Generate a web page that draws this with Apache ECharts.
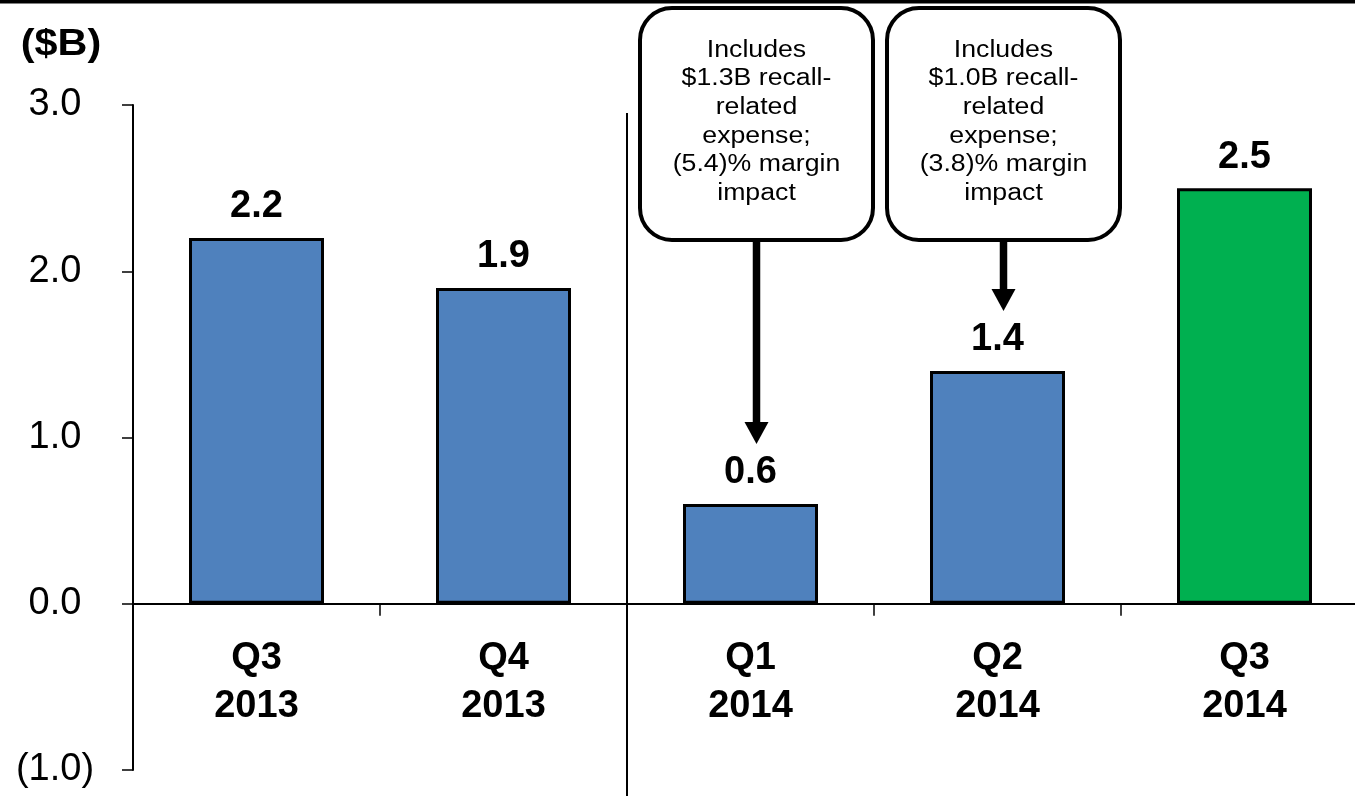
<!DOCTYPE html>
<html>
<head>
<meta charset="utf-8">
<script src="https://cdn.jsdelivr.net/npm/echarts@6/dist/echarts.min.js"></script>
<style>
  html, body { margin: 0; padding: 0; background: #fff; }
  #chart { width: 1355px; height: 796px; }
</style>
</head>
<body>
<div id="chart"></div>
<script>
// Quarterly values, $B
const quarters = ['Q3', 'Q4', 'Q1', 'Q2', 'Q3'];
const years = ['2013', '2013', '2014', '2014', '2014'];
const values = [2.2, 1.9, 0.6, 1.4, 2.5];
const barColors = ['#4F81BD', '#4F81BD', '#4F81BD', '#4F81BD', '#00B050'];

// Y axis range and tick labels
const yMin = -1, yMax = 3, yStep = 1;
const yTickLabels = { '-1': '(1.0)', '0': '0.0', '1': '1.0', '2': '2.0', '3': '3.0' };

const unitLabel = '($B)';

// Callout notes and the quarter each one points at
const callouts = [
  { index: 2, lines: ['Includes', '$1.3B recall-', 'related', 'expense;', '(5.4)% margin', 'impact'] },
  { index: 3, lines: ['Includes', '$1.0B recall-', 'related', 'expense;', '(3.8)% margin', 'impact'] }
];

const categories = quarters.map((q, i) => q + '\n' + years[i]);
const FONT = "'Liberation Sans', Arial, Helvetica, sans-serif";

const GRID = { left: 133, top: 105, width: 1235, height: 665 };
// quarter labels sit just under the zero line rather than at the grid floor
const zeroY = GRID.top + GRID.height * (yMax - 0) / (yMax - yMin);
const catLabelGap = 31;

const chart = echarts.init(document.getElementById('chart'), null, { renderer: 'canvas' });

chart.setOption({
  animation: false,
  backgroundColor: '#ffffff',
  grid: Object.assign({ containLabel: false, outerBoundsMode: 'none' }, GRID),
  xAxis: {
    type: 'category',
    data: categories,
    axisLine: { onZero: true, lineStyle: { color: '#000', width: 2 } },
    axisTick: { show: true, length: 12, lineStyle: { color: '#000', width: 1.5 } },
    axisLabel: {
      margin: (zeroY + catLabelGap) - (GRID.top + GRID.height),
      color: '#000',
      fontFamily: FONT,
      fontSize: 38,
      fontWeight: 'bold',
      lineHeight: 48,
      hideOverlap: false
    },
    splitLine: { show: false }
  },
  yAxis: {
    type: 'value',
    min: yMin,
    max: yMax,
    interval: yStep,
    axisLine: { show: true, lineStyle: { color: '#000', width: 2 } },
    axisTick: { show: true, length: 11, lineStyle: { color: '#000', width: 1.5 } },
    axisLabel: {
      margin: 78,
      align: 'center',
      padding: [6, 0, 0, 0],
      color: '#000',
      fontFamily: FONT,
      fontSize: 38,
      formatter: v => yTickLabels[String(Math.round(v))] || ''
    },
    splitLine: { show: false }
  },
  series: [{
    type: 'bar',
    barWidth: 135,
    data: values.map((v, i) => ({
      value: v,
      itemStyle: { color: barColors[i], borderColor: '#000', borderWidth: 3 }
    })),
    label: {
      show: true,
      position: 'top',
      distance: 12,
      color: '#000',
      fontFamily: FONT,
      fontSize: 38,
      fontWeight: 'bold',
      formatter: p => p.value.toFixed(1)
    }
  }]
});

// Annotations placed from the axis scales
function drawAnnotations() {
  const g = [];
  // rule across the top
  g.push({ type: 'rect', shape: { x: 0, y: 0, width: 1355, height: 3.5 }, style: { fill: '#000' }, silent: true });

  // unit label
  g.push({
    type: 'text', x: 61, y: 45, scaleX: 1.15,
    style: { text: unitLabel, font: 'bold 36px ' + FONT, fill: '#000', align: 'center', verticalAlign: 'middle' }
  });

  // divider between 2013 and 2014
  const p1 = chart.convertToPixel({ gridIndex: 0 }, [1, 0]);
  const p2 = chart.convertToPixel({ gridIndex: 0 }, [2, 0]);
  const divX = (p1[0] + p2[0]) / 2;
  g.push({ type: 'line', shape: { x1: divX, y1: 113, x2: divX, y2: 796 }, style: { stroke: '#000', lineWidth: 2 }, silent: true });

  const boxW = 233, boxH = 232, boxTop = 8, lineH = 28.6;
  callouts.forEach(c => {
    const top = chart.convertToPixel({ gridIndex: 0 }, [c.index, values[c.index]]);
    const cx = top[0] + 6;
    const tipY = top[1] - 60;
    const headH = 22, headW = 24;
    g.push({
      type: 'rect',
      shape: { x: cx - boxW / 2, y: boxTop, width: boxW, height: boxH, r: 32 },
      style: { fill: '#fff', stroke: '#000', lineWidth: 4 }
    });
    g.push({
      type: 'text', x: cx, y: boxTop + boxH / 2 - 2, scaleX: 1.16,
      style: {
        text: c.lines.join('\n'), font: '23px ' + FONT, fill: '#000',
        align: 'center', verticalAlign: 'middle', lineHeight: lineH
      }
    });
    g.push({
      type: 'rect',
      shape: { x: cx - 3.75, y: boxTop + boxH, width: 7.5, height: tipY - headH - (boxTop + boxH) + 1 },
      style: { fill: '#000' }
    });
    g.push({
      type: 'polygon',
      shape: { points: [[cx - headW / 2, tipY - headH], [cx + headW / 2, tipY - headH], [cx, tipY]] },
      style: { fill: '#000' }
    });
  });
  chart.setOption({ graphic: g });
}
drawAnnotations();
</script>
</body>
</html>
